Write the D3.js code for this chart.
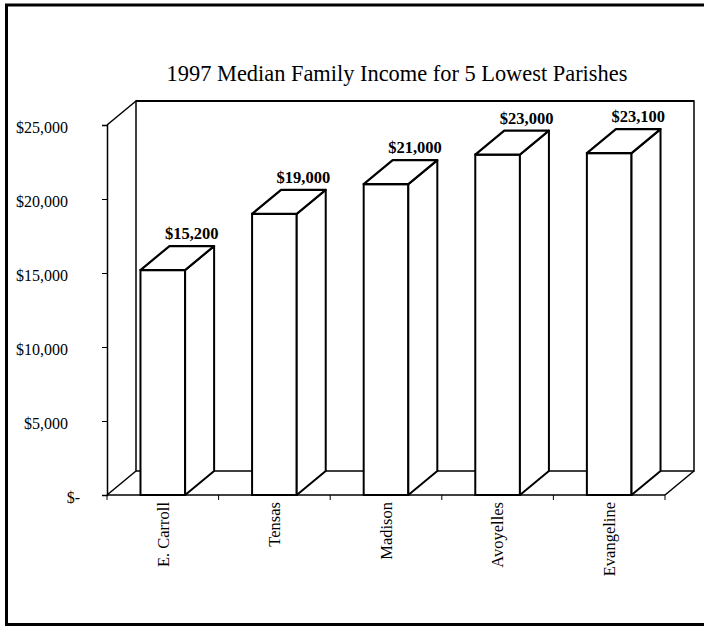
<!DOCTYPE html>
<html>
<head>
<meta charset="utf-8">
<script src="https://cdn.jsdelivr.net/npm/d3@7/dist/d3.min.js"></script>
<style>
  html, body { margin: 0; padding: 0; background: #fff; }
  svg { display: block; }
  text { font-family: "Liberation Serif", "Times New Roman", serif; fill: #000; }
</style>
</head>
<body>
<svg id="chart" width="704" height="627"></svg>
<script>
// ---- data ----
const categories = ["E. Carroll", "Tensas", "Madison", "Avoyelles", "Evangeline"];
const values = [15200, 19000, 21000, 23000, 23100];
const valueLabels = ["$15,200", "$19,000", "$21,000", "$23,000", "$23,100"];
const tickValues = [0, 5000, 10000, 15000, 20000, 25000];
const tickLabels = ["$-", "$5,000", "$10,000", "$15,000", "$20,000", "$25,000"];
const title = "1997 Median Family Income for 5 Lowest Parishes";

(function () {
// ---- layout ----
const svg = d3.select("#chart");
const pL = 107, pR = 665, pB = 495, pT = 125;
const dx = 29, dy = -24;

const x = d3.scaleBand().domain(categories).range([pL, pR])
  .paddingInner(0.6).paddingOuter(0.3);
const y = d3.scaleLinear().domain([0, 25000]).range([pB, pT]);

// outer frame
svg.append("rect").attr("x", 6.5).attr("y", 5).attr("width", 710).attr("height", 619.5)
  .attr("fill", "none").attr("stroke", "#000").attr("stroke-width", 3);

// title
svg.append("text").attr("x", 397).attr("y", 81).attr("text-anchor", "middle")
  .style("font-size", "22.4px").text(title);

const g = svg.append("g");
const line = (x1, y1, x2, y2, w) => g.append("line")
  .attr("x1", x1).attr("y1", y1).attr("x2", x2).attr("y2", y2)
  .attr("stroke", "#000").attr("stroke-width", w || 1.5);

const yMax = y(25000), y0 = y(0);
// back wall
g.append("rect").attr("x", pL + dx).attr("y", yMax + dy)
  .attr("width", pR - pL).attr("height", y0 - yMax)
  .attr("fill", "none").attr("stroke", "#000").attr("stroke-width", 1.5);
line(pL + dx, yMax + dy, pR + dx, yMax + dy, 2.2);
// left wall
line(pL, yMax, pL + dx, yMax + dy);
// floor
line(pL, y0, pR, y0);
line(pL, y0, pL + dx, y0 + dy);
line(pR, y0, pR + dx, y0 + dy);

// floor ticks at category boundaries
const bounds = d3.range(categories.length + 1).map(i => pL + i * x.step());
g.selectAll("line.ftick").data(bounds).join("line").attr("class", "ftick")
  .attr("x1", d => d).attr("x2", d => d).attr("y1", y0).attr("y2", y0 + 5)
  .attr("stroke", "#000").attr("stroke-width", 1);

// y axis
const yAxis = d3.axisLeft(y).tickValues(tickValues)
  .tickFormat((d, i) => tickLabels[i]).tickSize(5).tickPadding(34);
const ya = svg.append("g").attr("transform", `translate(${pL},0)`).call(yAxis);
ya.select(".domain").attr("stroke", "#000").attr("stroke-width", 1.5);
ya.selectAll(".tick line").attr("stroke", "#000").attr("stroke-width", 1);
ya.selectAll(".tick text").attr("dy", "0.35em").attr("y", 2)
  .style("font-size", "16px").style("font-family", '"Liberation Serif", serif').attr("fill", "#000");
// accounting-style zero label sits further right
ya.selectAll(".tick").filter(d => d === 0).select("text").attr("dx", 12);

// bars
const bars = svg.append("g").selectAll("g.bar")
  .data(categories.map((c, i) => ({ c, v: values[i], l: valueLabels[i] })))
  .join("g").attr("class", "bar");
const bw = x.bandwidth();
bars.append("rect")
  .attr("x", d => x(d.c)).attr("y", d => y(d.v))
  .attr("width", bw).attr("height", d => y0 - y(d.v))
  .attr("fill", "#fff").attr("stroke", "#000").attr("stroke-width", 2);
bars.append("path")
  .attr("d", d => {
    const x1 = x(d.c) + bw, yt = y(d.v);
    return `M${x1},${yt}L${x1 + dx},${yt + dy}L${x1 + dx},${y0 + dy}L${x1},${y0}Z`;
  })
  .attr("fill", "#fff").attr("stroke", "#000").attr("stroke-width", 2).attr("stroke-linejoin", "round");
bars.append("path")
  .attr("d", d => {
    const x0 = x(d.c), yt = y(d.v);
    return `M${x0},${yt}L${x0 + dx},${yt + dy}L${x0 + bw + dx},${yt + dy}L${x0 + bw},${yt}Z`;
  })
  .attr("fill", "#fff").attr("stroke", "#000").attr("stroke-width", 2.2).attr("stroke-linejoin", "round");
bars.append("text")
  .attr("x", d => x(d.c) + bw / 2 + dx).attr("y", d => y(d.v) + dy - 7)
  .attr("text-anchor", "middle").style("font-size", "16.5px").style("font-weight", "bold")
  .text(d => d.l);

// x axis labels
const xAxis = d3.axisBottom(x).tickSize(0).tickPadding(0);
const xa = svg.append("g").attr("transform", `translate(0,${y0})`).call(xAxis);
xa.select(".domain").remove();
xa.selectAll(".tick text")
  .attr("transform", "rotate(-90)").attr("text-anchor", "end")
  .attr("x", -7).attr("y", 0).attr("dy", "0.35em")
  .style("font-size", "16.5px").style("font-family", '"Liberation Serif", serif').attr("fill", "#000");
})();
</script>
</body>
</html>
